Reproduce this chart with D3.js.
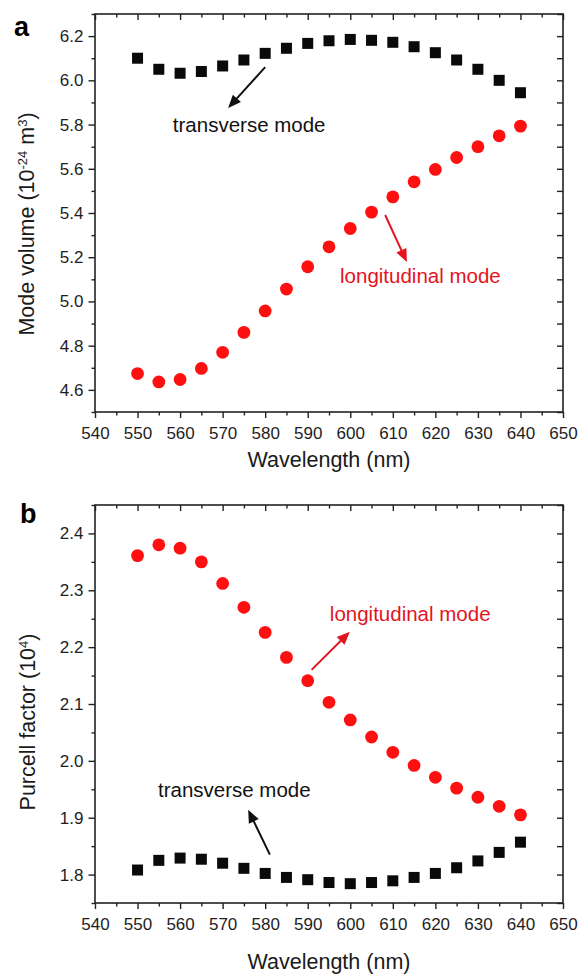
<!DOCTYPE html>
<html>
<head>
<meta charset="utf-8">
<script src="https://cdn.jsdelivr.net/npm/d3@7"></script>
<style>
  html, body { margin: 0; padding: 0; background: #fff; }
  svg { display: block; font-family: "Liberation Sans", Arial, Helvetica, sans-serif; }
</style>
</head>
<body>
<svg id="chart" width="580" height="975"></svg>
<script>
// ---------------- data ----------------
const wavelengths = [550, 555, 560, 565, 570, 575, 580, 585, 590, 595, 600, 605, 610, 615, 620, 625, 630, 635, 640];

// panel a: mode volume (10^-24 m^3)
const volTransverse   = [6.100, 6.050, 6.032, 6.040, 6.065, 6.092, 6.122, 6.145, 6.167, 6.179, 6.185, 6.181, 6.172, 6.152, 6.125, 6.092, 6.050, 6.000, 5.944];
const volLongitudinal = [4.674, 4.636, 4.647, 4.697, 4.770, 4.860, 4.957, 5.056, 5.157, 5.247, 5.330, 5.404, 5.473, 5.541, 5.597, 5.651, 5.700, 5.749, 5.793];

// panel b: Purcell factor (10^4)
const purLongitudinal = [2.361, 2.380, 2.374, 2.350, 2.312, 2.270, 2.226, 2.182, 2.141, 2.103, 2.072, 2.042, 2.015, 1.992, 1.971, 1.952, 1.936, 1.920, 1.905];
const purTransverse   = [1.808, 1.825, 1.829, 1.827, 1.820, 1.811, 1.802, 1.795, 1.791, 1.786, 1.784, 1.786, 1.789, 1.795, 1.802, 1.812, 1.824, 1.839, 1.857];

const xDomain = [540, 650];
const xTickLabels = [540, 550, 560, 570, 580, 590, 600, 610, 620, 630, 640, 650];
const xMinorTicks = [545, 555, 565, 575, 585, 595, 605, 615, 625, 635, 645];

const yDomainA = [4.5, 6.3];
const yTickLabelsA = [4.6, 4.8, 5.0, 5.2, 5.4, 5.6, 5.8, 6.0, 6.2];
const yMinorTicksA = [4.5, 4.7, 4.9, 5.1, 5.3, 5.5, 5.7, 5.9, 6.1, 6.3];

const yDomainB = [1.75, 2.45];
const yTickLabelsB = [1.8, 1.9, 2.0, 2.1, 2.2, 2.3, 2.4];
const yMinorTicksB = [1.75, 1.85, 1.95, 2.05, 2.15, 2.25, 2.35, 2.45];

// annotations (data coordinates): arrow [x1, y1, x2(tip), y2(tip)], text anchor [x, y]
const annotA = [
  { text: "transverse mode",   color: "#111",    arrow: [580.0, 6.060, 571.3, 5.875], pos: [558.3, 5.766] },
  { text: "longitudinal mode", color: "#e3141e", arrow: [608.2, 5.391, 613.3, 5.178], pos: [597.6, 5.083] }
];
const annotB = [
  { text: "longitudinal mode", color: "#e3141e", arrow: [590.9, 2.160, 599.9, 2.227], pos: [595.2, 2.246] },
  { text: "transverse mode",   color: "#111",    arrow: [581.1, 1.835, 576.0, 1.914], pos: [554.8, 1.937] }
];

// ---------------- drawing ----------------
const svg = d3.select("#chart");
const RED = "#ff1010";
const AXIS = "#222";

const x = d3.scaleLinear().domain(xDomain).range([95, 563]);

function panel(cfg) {
  const y = d3.scaleLinear().domain(cfg.yDomain).range([cfg.bottom, cfg.top]);
  const g = svg.append("g");

  const fmt = d3.format(".1f");
  // bottom axis (outward)
  const bottom = g.append("g").attr("transform", `translate(0,${cfg.bottom})`)
    .call(d3.axisBottom(x).tickValues(xTickLabels).tickSize(6).tickPadding(6).tickFormat(d3.format("d")));
  g.append("g").attr("transform", `translate(0,${cfg.bottom})`)
    .call(d3.axisBottom(x).tickValues(xMinorTicks).tickSize(3.5).tickFormat(""));
  // top axis (inward)
  g.append("g").attr("transform", `translate(0,${cfg.top})`)
    .call(d3.axisBottom(x).tickValues(xTickLabels).tickSize(6).tickFormat(""));
  g.append("g").attr("transform", `translate(0,${cfg.top})`)
    .call(d3.axisBottom(x).tickValues(xMinorTicks).tickSize(3.5).tickFormat(""));
  // left axis (outward)
  g.append("g").attr("transform", `translate(95,0)`)
    .call(d3.axisLeft(y).tickValues(cfg.yTicks).tickSize(6.5).tickPadding(5).tickFormat(fmt));
  g.append("g").attr("transform", `translate(95,0)`)
    .call(d3.axisLeft(y).tickValues(cfg.yMinor).tickSize(3.5).tickFormat(""));
  // right axis (inward)
  g.append("g").attr("transform", `translate(563,0)`)
    .call(d3.axisLeft(y).tickValues(cfg.yTicks).tickSize(6).tickFormat(""));
  g.append("g").attr("transform", `translate(563,0)`)
    .call(d3.axisLeft(y).tickValues(cfg.yMinor).tickSize(6).tickFormat(""));

  g.selectAll(".domain").remove();
  g.selectAll(".tick line").attr("stroke", AXIS).attr("stroke-width", 1.4);
  g.selectAll(".tick text").attr("fill", "#1e1e1e").style("font-size", "17px")
    .style("font-family", '"Liberation Sans", Arial, sans-serif');
  bottom.selectAll(".tick text").attr("dy", "0.9em");

  // frame
  g.append("rect").attr("x", x.range()[0]).attr("y", cfg.top)
    .attr("width", x.range()[1] - x.range()[0]).attr("height", cfg.bottom - cfg.top)
    .attr("fill", "none").attr("stroke", AXIS).attr("stroke-width", 1.6);

  // markers: circles (red) and squares (black)
  g.append("g").selectAll("circle").data(cfg.circles).join("circle")
    .attr("cx", (d, i) => x(wavelengths[i])).attr("cy", d => y(d)).attr("r", 6.4)
    .attr("fill", RED);
  const s = 11;
  g.append("g").selectAll("rect").data(cfg.squares).join("rect")
    .attr("x", (d, i) => x(wavelengths[i]) - s / 2).attr("y", d => y(d) - s / 2)
    .attr("width", s).attr("height", s).attr("fill", "#0a0a0a");

  // annotations
  cfg.annot.forEach(a => {
    const x1 = x(a.arrow[0]), y1 = y(a.arrow[1]), x2 = x(a.arrow[2]), y2 = y(a.arrow[3]);
    const ang = Math.atan2(y2 - y1, x2 - x1);
    const hl = 13, hw = 5.5;
    const bx = x2 - hl * Math.cos(ang), by = y2 - hl * Math.sin(ang);
    g.append("line").attr("x1", x1).attr("y1", y1)
      .attr("x2", x2 - (hl - 2) * Math.cos(ang)).attr("y2", y2 - (hl - 2) * Math.sin(ang))
      .attr("stroke", a.color).attr("stroke-width", 2);
    g.append("path")
      .attr("d", `M${x2},${y2}L${bx - hw * Math.sin(ang)},${by + hw * Math.cos(ang)}L${bx + hw * Math.sin(ang)},${by - hw * Math.cos(ang)}Z`)
      .attr("fill", a.color);
    g.append("text").attr("x", x(a.pos[0])).attr("y", y(a.pos[1]))
      .attr("fill", a.color).style("font-size", "20.5px").text(a.text);
  });

  // axis titles
  g.append("text").attr("x", (x.range()[0] + x.range()[1]) / 2).attr("y", cfg.xTitleY)
    .attr("text-anchor", "middle").attr("fill", "#1a1a1a").style("font-size", "21.5px")
    .text("Wavelength (nm)");

  const yt = g.append("text").attr("transform", `translate(${cfg.yTitleX},${cfg.yTitleY}) rotate(-90)`)
    .attr("text-anchor", "middle").attr("fill", "#1a1a1a").style("font-size", "21.5px");
  cfg.yTitle.forEach(p => {
    const t = yt.append("tspan").text(p.t);
    if (p.sup) t.attr("baseline-shift", "super").style("font-size", "13px");
  });

  // panel letter
  g.append("text").attr("x", cfg.letterX).attr("y", cfg.letterY)
    .attr("fill", "#000").style("font-size", "27px").style("font-weight", "bold").text(cfg.letter);
}

panel({
  top: 14, bottom: 412, yDomain: yDomainA, yTicks: yTickLabelsA, yMinor: yMinorTicksA,
  circles: volLongitudinal, squares: volTransverse, annot: annotA,
  xTitleY: 467, yTitleX: 34, yTitleY: 224,
  yTitle: [{ t: "Mode volume (10" }, { t: "-24", sup: true }, { t: " m" }, { t: "3", sup: true }, { t: ")" }],
  letter: "a", letterX: 14, letterY: 36
});

panel({
  top: 505, bottom: 903, yDomain: yDomainB, yTicks: yTickLabelsB, yMinor: yMinorTicksB,
  circles: purLongitudinal, squares: purTransverse, annot: annotB,
  xTitleY: 969, yTitleX: 35, yTitleY: 722,
  yTitle: [{ t: "Purcell factor (10" }, { t: "4", sup: true }, { t: ")" }],
  letter: "b", letterX: 20, letterY: 523
});
</script>
</body>
</html>
